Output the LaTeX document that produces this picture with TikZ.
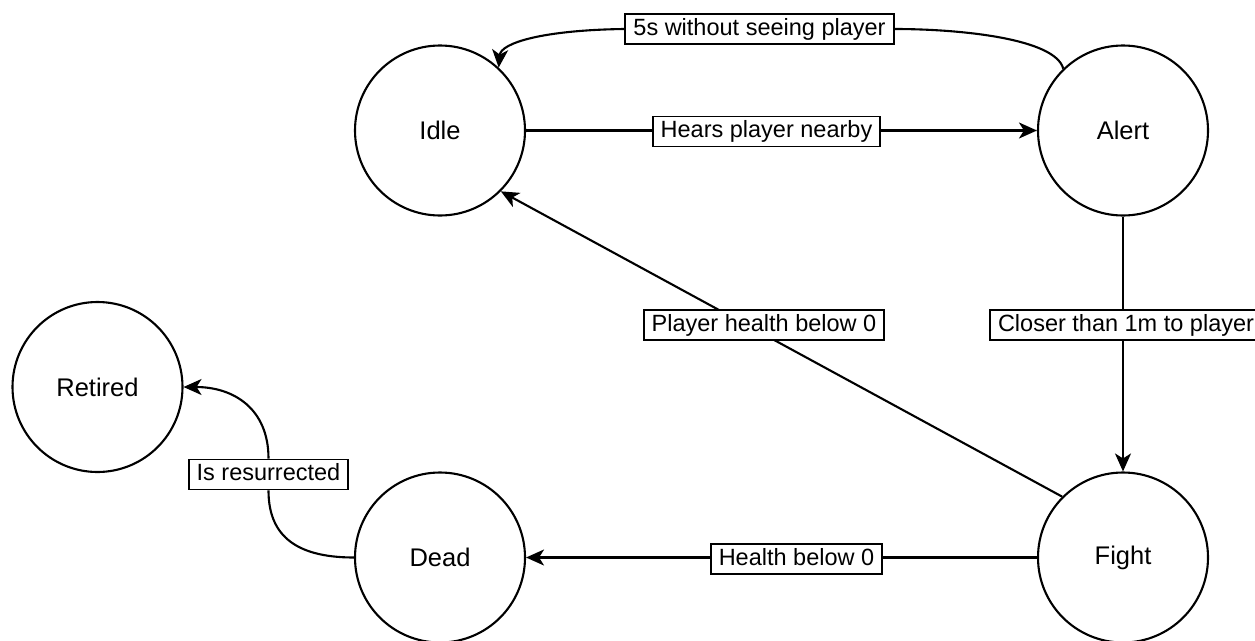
\documentclass[tikz,border=0pt]{standalone}
\usepackage{fontspec}
\setmainfont{Liberation Sans}
\usetikzlibrary{arrows.meta,backgrounds}
\begin{document}
\begin{tikzpicture}[x=1pt,y=-1pt,
  font=\fontsize{23.5}{28}\selectfont,
  state/.style={circle,draw,line width=2.1pt,minimum size=170pt,inner sep=0pt,fill=white,
                font=\fontsize{25.5}{30}\selectfont},
  lbl/.style={draw,fill=white,line width=1.9pt,inner xsep=8pt,inner ysep=4pt,
              text height=17pt,text depth=5pt},
  edge/.style={line width=2.1pt},
  arr/.style={edge,-{Stealth[length=18pt,width=16pt,inset=5pt]}}]
\clip (0,0) rectangle (1255,640);

% states
\node[state] (idle)    at (440,130.5)  {Idle};
\node[state] (alert)   at (1123,130.5) {Alert};
\node[state] (retired) at (97.5,387)   {Retired};
\node[state] (dead)    at (440,557.5)  {Dead};
\node[state] (fight)   at (1123,557.5) {Fight};

% transition labels
\node[lbl] (l5s)    at (759.5,29)   {5s without seeing player};
\node[lbl] (lhear)  at (766.5,131.5){Hears player nearby};
\node[lbl] (lplay)  at (764,325)    {Player health below 0};
\node[lbl] (lclose) at (1126,325)   {Closer than 1m to player};
\node[lbl] (lhp)    at (796.5,559)  {Health below 0};
\node[lbl] (lres)   at (268.5,474.5){Is resurrected};

% page background and transitions, kept behind the labels
\begin{pgfonlayer}{background}
\fill[white] (0,0) rectangle (1255,640);
\draw[arr] (idle) -- (alert);
\draw[arr] (alert) -- (fight);
\draw[arr] (fight) -- (dead);
\draw[arr] (fight.135) -- (idle.-45);
\draw[edge] (alert.134) .. controls +(-8,-30) and +(66,0) .. (l5s.east);
\draw[arr] (l5s.west) .. controls +(-80,1) and +(2,-25) .. (idle.47);
\draw[edge] (dead.west) .. controls +(-62,0) and +(0,42) .. (lres.south);
\draw[arr] (lres.north) .. controls +(0,-50) and +(50,0) .. (retired.east);
\end{pgfonlayer}
\end{tikzpicture}
\end{document}
